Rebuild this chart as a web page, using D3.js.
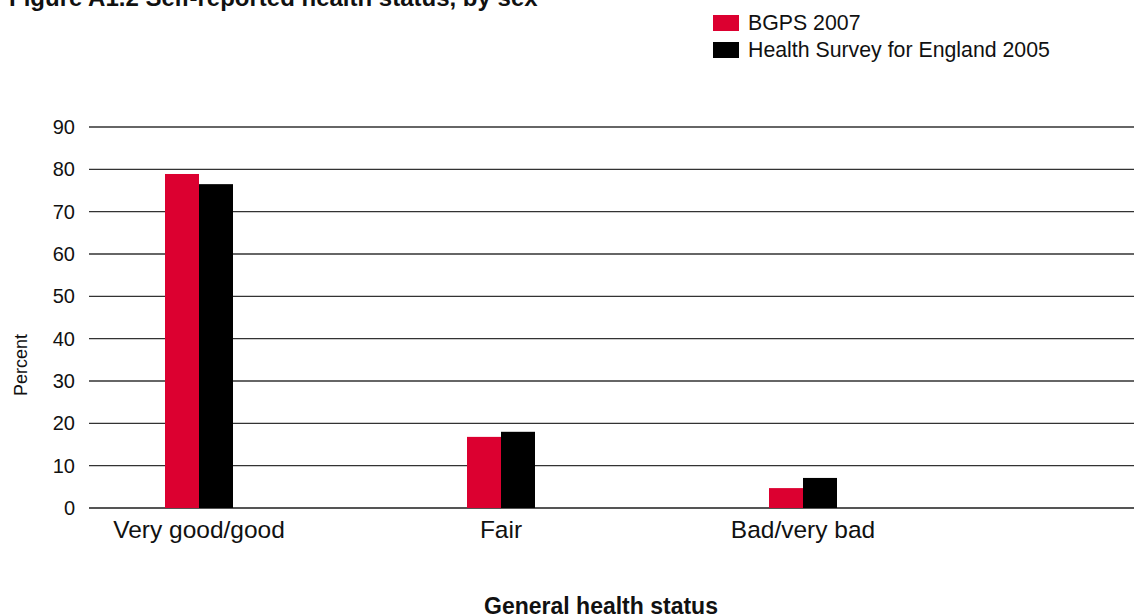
<!DOCTYPE html>
<html>
<head>
<meta charset="utf-8"/>
<title>Self-reported health status</title>
<script src="https://d3js.org/d3.v7.min.js"></script>
<style>
  body { margin: 0; background: #fff; }
  text { font-family: "Liberation Sans", Arial, Helvetica, sans-serif; fill: #111; }
</style>
</head>
<body>
<div id="chart"></div>
<script>
// data
var categories = ["Very good/good", "Fair", "Bad/very bad"];
var seriesNames = ["BGPS 2007", "Health Survey for England 2005"];
var bgps2007 = [78.9, 16.8, 4.7];
var hse2005 = [76.5, 18.0, 7.1];
var yTicks = [0, 10, 20, 30, 40, 50, 60, 70, 80, 90];
var colors = ["#dc0030", "#000000"];

var W = 1134, H = 616;
var margin = {top: 127, right: 0, bottom: 108, left: 89};
var width = W - margin.left - margin.right,
    height = H - margin.top - margin.bottom;

var svg = d3.select("#chart").append("svg")
  .attr("width", W).attr("height", H);

// title (cut off at top in the original)
svg.append("text")
  .attr("x", 9).attr("y", 6)
  .style("font-size", "24px").style("font-weight", "bold")
  .text("Figure A1.2 Self-reported health status, by sex");

var g = svg.append("g")
  .attr("transform", "translate(" + margin.left + "," + margin.top + ")");

var y = d3.scaleLinear().domain([0, 90]).range([height, 0]);

// category centres sit on a point scale over the left part of the plot
var x = d3.scalePoint().domain(categories).range([110, 714]);
var barW = 34;

// gridlines
g.selectAll(".grid").data(yTicks).enter().append("line")
  .attr("x1", 0).attr("x2", width)
  .attr("y1", d => y(d)).attr("y2", d => y(d))
  .attr("stroke", d => d === 0 ? "#555" : "#333")
  .attr("stroke-width", d => d === 0 ? 2 : 1.4);

// y tick labels
g.selectAll(".ytick").data(yTicks).enter().append("text")
  .attr("x", -14).attr("y", d => y(d))
  .attr("dy", "0.35em")
  .attr("text-anchor", "end")
  .style("font-size", "20px")
  .text(d => d);

// bars
var series = [bgps2007, hse2005];
series.forEach(function(vals, si) {
  g.selectAll(".bar" + si).data(vals).enter().append("rect")
    .attr("x", (d, i) => x(categories[i]) - barW + si * barW)
    .attr("y", d => y(d))
    .attr("width", barW)
    .attr("height", d => y(0) - y(d))
    .attr("fill", colors[si]);
});

// category labels
g.selectAll(".xlab").data(categories).enter().append("text")
  .attr("x", d => x(d)).attr("y", height + 30)
  .attr("text-anchor", "middle")
  .style("font-size", "24.5px")
  .text(d => d);

// axis titles
svg.append("text")
  .attr("transform", "translate(27,365) rotate(-90)")
  .attr("text-anchor", "middle")
  .style("font-size", "18px")
  .text("Percent");

svg.append("text")
  .attr("x", 601).attr("y", 614)
  .attr("text-anchor", "middle")
  .style("font-size", "23px").style("font-weight", "bold")
  .text("General health status");

// legend
var legend = svg.append("g").attr("transform", "translate(713,15)");
seriesNames.forEach(function(name, i) {
  legend.append("rect")
    .attr("x", 0).attr("y", i * 27)
    .attr("width", 26).attr("height", 16)
    .attr("fill", colors[i]);
  legend.append("text")
    .attr("x", 35).attr("y", i * 27 + 15)
    .style("font-size", "21.3px")
    .text(name);
});
</script>
</body>
</html>
